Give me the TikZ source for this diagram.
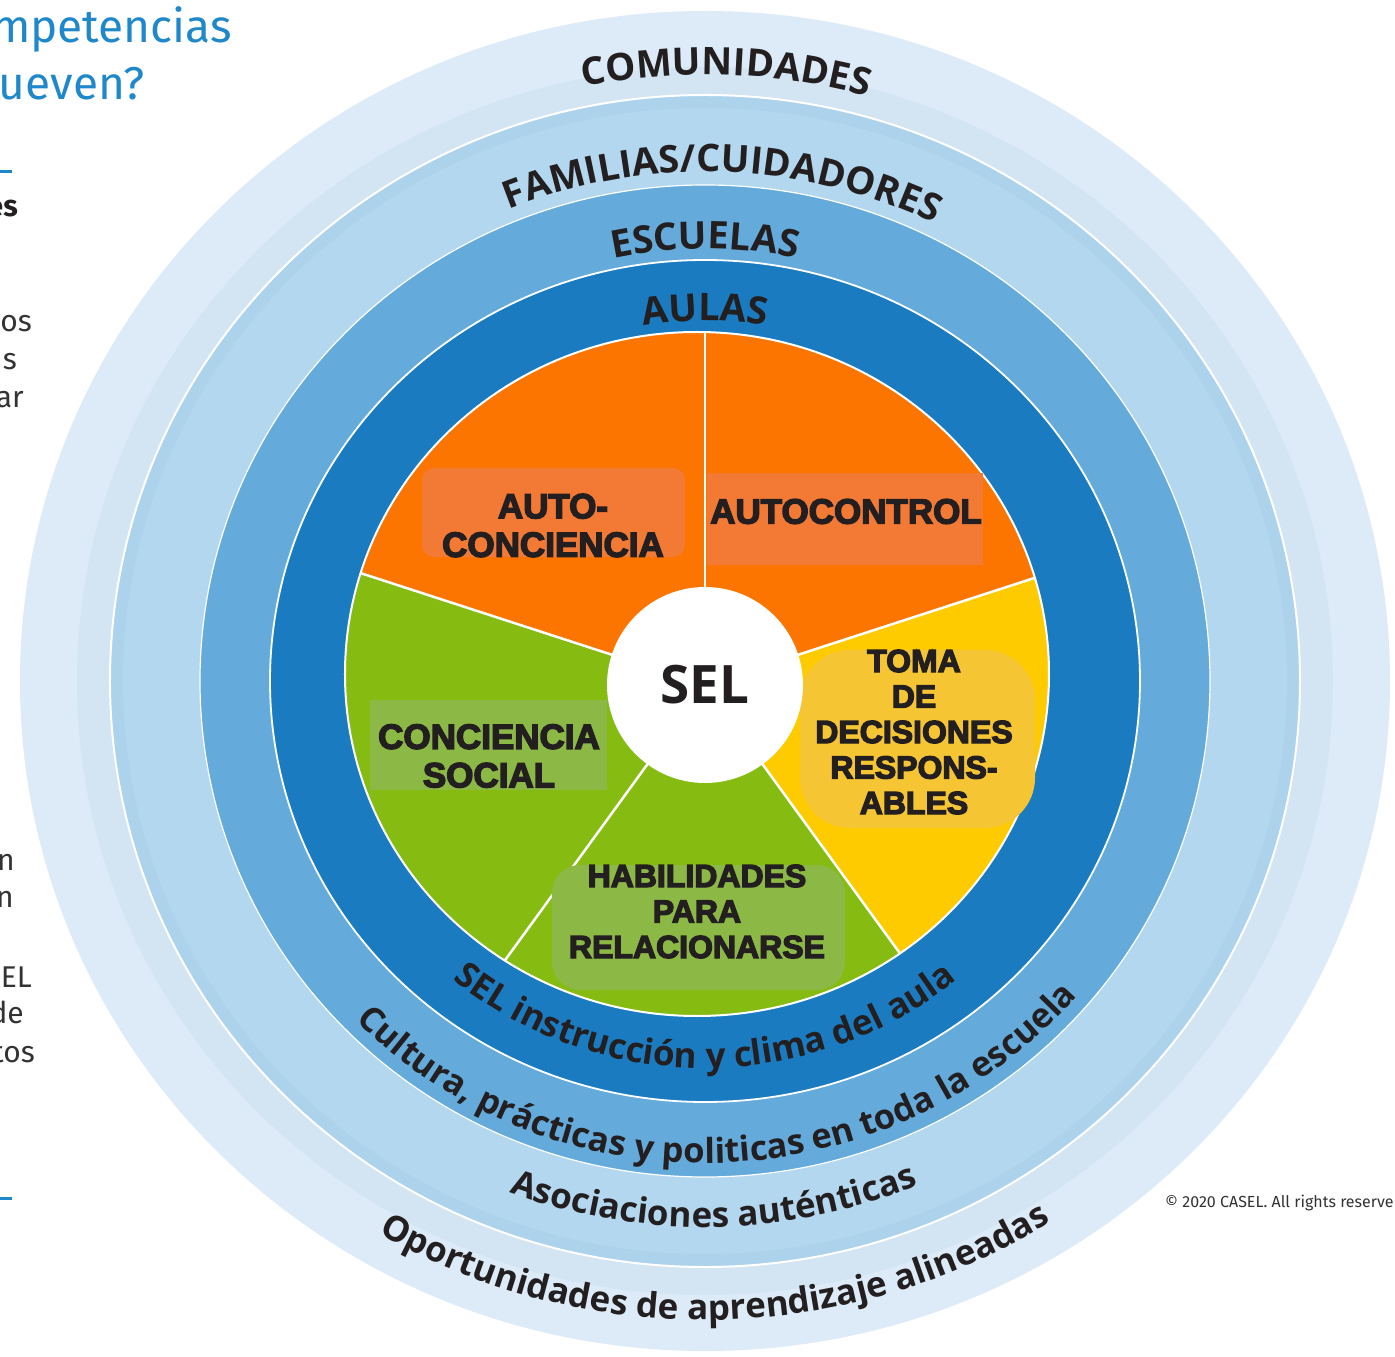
\documentclass[tikz,border=0pt]{standalone}
\usepackage{fontspec}
\usetikzlibrary{decorations.text}
\newfontfamily\ringfont{Open Sans}
\newfontfamily\capfont{Liberation Sans}[BoldFont={* Bold}, BoldFeatures={FakeBold=4}]
\newfontfamily\sidefont{Fira Sans}

\definecolor{outerblue}{HTML}{DCEBF7}
\definecolor{outerband}{HTML}{D3E5F2}
\definecolor{lightblue}{HTML}{B3D7EF}
\definecolor{lightband}{HTML}{ADD2EB}
\definecolor{midblue}{HTML}{64ABDB}
\definecolor{darkblue}{HTML}{1B7BC1}
\definecolor{orng}{HTML}{FB7500}
\definecolor{orngbox}{HTML}{F27A35}
\definecolor{grn}{HTML}{86BB12}
\definecolor{grnbox}{HTML}{8CB946}
\definecolor{yell}{HTML}{FDCB00}
\definecolor{yellbox}{HTML}{F5C534}
\definecolor{ink}{HTML}{231F20}
\definecolor{headblue}{HTML}{1E88CA}
\definecolor{bodygray}{HTML}{333333}

\newcommand{\ringcaps}{\ringfont\bfseries\fontsize{38}{40}\selectfont}
\newcommand{\ringlow}{\ringfont\bfseries\fontsize{35}{40}\selectfont}
\newcommand{\ringlowb}{\ringfont\bfseries\fontsize{34.5}{40}\selectfont}
\newcommand{\tagbig}{\capfont\bfseries\fontsize{35}{38.5}\selectfont}
\newcommand{\tagsmall}{\capfont\bfseries\fontsize{32}{35.5}\selectfont}

\tikzset{
  tagbox/.style={inner sep=0pt},
  tag/.style={align=center, text=ink, inner sep=0pt},
  headline/.style={anchor=base east, inner sep=0pt, text=headblue, font=\sidefont\fontsize{46}{57}\selectfont},
  sidetext/.style={anchor=base east, inner sep=0pt, text=bodygray, font=\sidefont\fontsize{30}{38}\selectfont},
}

\begin{document}
\begin{tikzpicture}[x=1pt, y=1pt]
    \useasboundingbox (-705,-676) rectangle (690,681);
    \fill[white] (-705,-676) rectangle (690,681);

    % rings
    \fill[outerblue] (0,0) ellipse[x radius=685, y radius=670];
    \fill[outerband] (0,0) ellipse[x radius=628, y radius=614];
    \fill[lightband] (0,0) ellipse[x radius=595, y radius=586];
    \fill[lightblue] (0,0) ellipse[x radius=582, y radius=573];
    \fill[midblue] (0,0) ellipse[x radius=505, y radius=496];
    \fill[darkblue] (0,0) ellipse[x radius=435, y radius=421];
    \foreach \rx/\ry/\w in {595/586/2, 505/496/1.2, 435/421/1.8}
        \draw[white, line width=\w pt] (0,0) ellipse[x radius=\rx, y radius=\ry];

    % ring labels
    \path[decorate, decoration={text along path, text align=center, text color=ink,
        text={|\ringcaps|COMUNIDADES}}]
        (158:620 and 606) arc[start angle=158, end angle=18, x radius=620, y radius=606];
    \path[decorate, decoration={text along path, text align=center, text color=ink,
        text={|\ringcaps|FAMILIAS/CUIDADORES}}]
        (158:522 and 509) arc[start angle=158, end angle=18, x radius=522, y radius=509];
    \path[decorate, decoration={text along path, text align=center, text color=ink,
        text={|\ringcaps|ESCUELAS}}]
        (160:442 and 432) arc[start angle=160, end angle=20, x radius=442, y radius=432];
    \path[decorate, decoration={text along path, text align=center, text color=ink,
        text={|\ringcaps|AULAS}}]
        (160:368 and 360) arc[start angle=160, end angle=20, x radius=368, y radius=360];

    \path[decorate, decoration={text along path, text align=center, text color=ink,
        text={|\ringlow|SEL instrucción y clima del aula}}]
        (190:397 and 387) arc[start angle=190, end angle=350, x radius=397, y radius=387];
    \path[decorate, decoration={text along path, text align=center, text color=ink,
        text={|\ringlowb|Cultura, prácticas y politicas en toda la escuela}}]
        (192:492 and 482) arc[start angle=192, end angle=352, x radius=492, y radius=482];
    \path[decorate, decoration={text along path, text align=center, text color=ink,
        text={|\ringlow|Asociaciones auténticas}}]
        (191:556 and 546) arc[start angle=191, end angle=351, x radius=556, y radius=546];
    \path[decorate, decoration={text along path, text align=center, text color=ink,
        text={|\ringlow|Oportunidades de aprendizaje alineadas}}]
        (191:650 and 639) arc[start angle=191, end angle=351, x radius=650, y radius=639];

    % wedges
    \coordinate (ctr) at (0,-4);
    \begin{scope}
        \clip (-8,7) ellipse[x radius=352, y radius=342];
        \foreach \a/\col in {18/orng, 90/orng, 162/grn, 234/grn, 306/yell}
            \fill[\col] (ctr) -- +(\a:700) -- +(\a+72:700) -- cycle;
        \foreach \a in {18,90,162,234,306}
            \draw[white, line width=2.5pt] (ctr) -- +(\a:700);
    \end{scope}
    \draw[white, line width=2pt] (-8,7) ellipse[x radius=352, y radius=342];

    % label boxes
    \node[tagbox, fill=orngbox, rounded corners=12pt, minimum width=263pt, minimum height=89pt] (bAuto) at (-151.5,168.5) {};
    \node[tagbox, fill=orngbox, minimum width=276pt, minimum height=92pt] (bCtrl) at (140,162) {};
    \node[tagbox, fill=yellbox, rounded corners=50pt, minimum width=235pt, minimum height=178pt] (bToma) at (212.5,-58) {};
    \node[tagbox, fill=grnbox, minimum width=237pt, minimum height=90pt] (bSocial) at (-216.5,-64) {};
    \node[tagbox, fill=grnbox, rounded corners=28pt, minimum width=293pt, minimum height=125pt] (bHab) at (-6.5,-246.5) {};

    \node[tag, font=\tagbig] (tAuto) at (-152,155.5) {AUTO-\\CONCIENCIA};
    \node[tag, font=\tagbig] (tCtrl) at (141,169.5) {AUTOCONTROL};
    \node[tag, font=\tagsmall] (tToma) at (209,-51) {TOMA\\DE\\DECISIONES\\RESPONS-\\ABLES};
    \node[tag, font=\tagbig] (tSocial) at (-216,-75) {CONCIENCIA\\SOCIAL};
    \node[tag, font=\tagsmall] (tHab) at (-8,-230.5) {HABILIDADES\\PARA\\RELACIONARSE};

    % centre
    \node[circle, fill=white, minimum size=196pt, inner sep=0pt, text=ink,
        font=\ringfont\bfseries\fontsize{53}{53}\selectfont] (hub) at (ctr) {SEL};

    % text cut at the left edge
    \node[headline] (head1) at (-473,638) {mpetencias};
    \node[headline] (head2) at (-560,581) {ueven?};
    \fill[headblue] (-705,508) rectangle (-693,511);
    \node[sidetext, text=ink, font=\sidefont\bfseries\fontsize{30}{38}\selectfont] (body1) at (-687,464) {es};
    \node[sidetext] (body2) at (-673,349) {os};
    \node[sidetext] (body3) at (-688,311) {s};
    \node[sidetext] (body4) at (-681,273) {ar};
    \node[sidetext] (body5) at (-690,-189) {n};
    \node[sidetext] (body6) at (-691,-226) {n};
    \node[sidetext] (body7) at (-673,-306) {EL};
    \node[sidetext] (body8) at (-681,-342) {de};
    \node[sidetext] (body9) at (-670,-381) {tos};
    \fill[headblue] (-705,-519) rectangle (-693,-516);

    \node[anchor=base west, inner sep=0pt, text=bodygray, font=\sidefont\fontsize{16}{16}\selectfont] (copy) at (460,-526) {© 2020 CASEL. All rights reserve};

\end{tikzpicture}
\end{document}
